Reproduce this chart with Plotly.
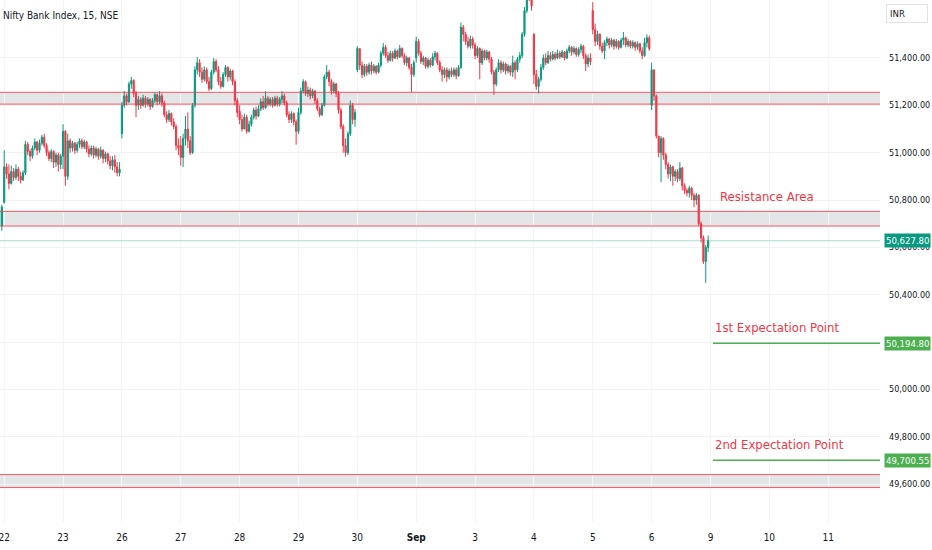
import plotly.graph_objects as go

# Nifty Bank Index, 15 min candles, 22 Aug - 6 Sep
day_labels = ["22", "23", "26", "27", "28", "29", "30", "<b>Sep</b>", "3", "4", "5", "6", "9", "10", "11"]
bars_per_day = 25

# last bar of 21 Aug: open, high, low, close
prior_bar = [50690, 50780, 50670, 50770]

session_opens = [50790, 50985, 51080, 51030, 51175, 51090, 51350, 51400, 51455, 51500, 51600, 51200]

closes = [
    # 22 Aug
    50940, 50910, 50870, 50920, 50895, 50930, 50900, 50885, 50915, 51035, 51005, 50985, 51020,
    51045, 51010, 51040, 51065, 51030, 51000, 50975, 51005, 50960, 50990, 50950, 50985,
    # 23 Aug
    51090, 50900, 51050, 51020, 51040, 51010, 51035, 51050, 51025, 51045, 51015, 50995, 51020,
    50990, 51015, 50985, 51010, 50975, 50995, 50965, 50945, 50970, 50940, 50915, 50930,
    # 26 Aug
    51200, 51240, 51215, 51290, 51305, 51250, 51200, 51225, 51200, 51230, 51205, 51225, 51195,
    51220, 51245, 51215, 51240, 51210, 51160, 51140, 51165, 51130, 51110, 51030, 51020,
    # 27 Aug
    50980, 51060, 51100, 51050, 51000, 51200, 51350, 51380, 51340, 51310, 51350, 51300, 51270,
    51340, 51385, 51350, 51300, 51280, 51330, 51360, 51320, 51345, 51300, 51220, 51170,
    # 28 Aug
    51140, 51100, 51150, 51090, 51120, 51150, 51180, 51155, 51185, 51215, 51190, 51230, 51205,
    51225, 51200, 51230, 51205, 51225, 51240, 51210, 51160, 51140, 51165, 51130, 51090,
    # 29 Aug
    51170, 51260, 51300, 51250, 51265, 51240, 51260, 51220, 51185, 51160, 51200, 51320, 51340,
    51300, 51260, 51290, 51250, 51180, 51110, 51030, 51000, 51080, 51200, 51140, 51170,
    # 30 Aug
    51440, 51370, 51330, 51365, 51340, 51370, 51345, 51365, 51340, 51370, 51420, 51445, 51410,
    51390, 51420, 51400, 51430, 51405, 51440, 51410, 51380, 51400, 51360, 51330, 51380,
    # 2 Sep
    51470, 51420, 51385, 51400, 51365, 51390, 51370, 51405, 51420, 51380, 51350, 51330, 51350,
    51320, 51345, 51330, 51350, 51325, 51360, 51530, 51500, 51470, 51450, 51480, 51455,
    # 3 Sep
    51410, 51440, 51380, 51430, 51400, 51425, 51395, 51340, 51290, 51350, 51380, 51350, 51375,
    51345, 51365, 51340, 51380, 51350, 51395, 51410, 51500, 51600, 51680, 51660, 51620,
    # 4 Sep
    51330, 51280, 51310, 51360, 51400, 51380, 51410, 51395, 51415, 51400, 51420, 51405, 51425,
    51400, 51430, 51445, 51425, 51440, 51415, 51435, 51450, 51410, 51375, 51400, 51385,
    # 5 Sep
    51520, 51470, 51500, 51450, 51430, 51465, 51480, 51455, 51475, 51450, 51470, 51445, 51475,
    51485, 51455, 51470, 51450, 51465, 51445, 51460, 51430, 51410, 51465, 51485, 51440,
    # 6 Sep
    51350, 51240, 51070, 51000, 51060, 50990, 50950, 50910, 50940, 50900, 50920, 50890, 50935,
    50860, 50840, 50830, 50850, 50820, 50800, 50820, 50700, 50640, 50540, 50600, 50627.80,
]

highs = [
    51010, 50955, 50950, 50945, 50935, 50950, 50940, 50920, 50925, 51050, 51045, 51015, 51030,
    51060, 51050, 51055, 51075, 51080, 51040, 51010, 51015, 51010, 51000, 51000, 50995,
    51120, 51095, 51080, 51060, 51050, 51045, 51045, 51060, 51060, 51055, 51050, 51030, 51030,
    51030, 51025, 51020, 51025, 51015, 51005, 51000, 50985, 50985, 50990, 50960, 50960,
    51215, 51260, 51250, 51300, 51320, 51310, 51260, 51240, 51235, 51245, 51240, 51235, 51230,
    51230, 51255, 51250, 51260, 51250, 51220, 51175, 51180, 51170, 51145, 51120, 51060,
    51070, 51080, 51155, 51170, 51070, 51210, 51365, 51404, 51395, 51360, 51365, 51360, 51320,
    51350, 51400, 51395, 51365, 51320, 51340, 51370, 51365, 51355, 51350, 51310, 51230,
    51200, 51160, 51165, 51160, 51135, 51160, 51190, 51195, 51200, 51230, 51240, 51260, 51240,
    51235, 51235, 51240, 51240, 51235, 51260, 51250, 51220, 51175, 51175, 51170, 51140,
    51190, 51275, 51310, 51305, 51280, 51275, 51270, 51265, 51230, 51195, 51210, 51330, 51370,
    51350, 51310, 51300, 51295, 51260, 51190, 51120, 51060, 51090, 51220, 51210, 51185,
    51450, 51440, 51385, 51375, 51375, 51380, 51385, 51375, 51370, 51380, 51430, 51463, 51455,
    51425, 51430, 51430, 51440, 51435, 51455, 51445, 51420, 51410, 51405, 51375, 51390,
    51490, 51480, 51430, 51410, 51405, 51400, 51400, 51420, 51430, 51425, 51390, 51365, 51360,
    51360, 51355, 51360, 51360, 51360, 51370, 51550, 51540, 51510, 51490, 51495, 51490,
    51465, 51450, 51445, 51440, 51435, 51435, 51430, 51405, 51350, 51360, 51395, 51390, 51385,
    51380, 51375, 51370, 51410, 51390, 51405, 51425, 51510, 51615, 51700, 51700, 51680,
    51505, 51350, 51320, 51375, 51415, 51420, 51430, 51425, 51430, 51425, 51435, 51430, 51435,
    51430, 51440, 51455, 51450, 51450, 51445, 51445, 51460, 51455, 51420, 51415, 51420,
    51636, 51545, 51515, 51505, 51465, 51475, 51490, 51485, 51485, 51480, 51480, 51475, 51485,
    51510, 51490, 51480, 51475, 51475, 51470, 51470, 51465, 51445, 51485, 51500, 51495,
    51380, 51340, 51245, 51070, 51070, 51065, 51000, 50960, 50950, 50945, 50930, 50930, 50960,
    50940, 50870, 50850, 50860, 50855, 50830, 50830, 50825, 50710, 50650, 50610, 50650,
]

lows = [
    50785, 50890, 50845, 50865, 50880, 50885, 50880, 50870, 50880, 50905, 50990, 50965, 50975,
    51010, 50990, 51000, 51030, 51020, 50985, 50965, 50960, 50935, 50940, 50920, 50930,
    50930, 50860, 50885, 51000, 51005, 50995, 51000, 51020, 51015, 51015, 51000, 50980, 50985,
    50975, 50980, 50970, 50975, 50955, 50960, 50950, 50930, 50925, 50915, 50900, 50900,
    51060, 51190, 51200, 51210, 51270, 51235, 51150, 51180, 51185, 51195, 51190, 51195, 51180,
    51190, 51210, 51200, 51205, 51195, 51150, 51125, 51130, 51115, 51100, 51010, 50990,
    50945, 50940, 51030, 51020, 50990, 50995, 51190, 51330, 51320, 51295, 51300, 51290, 51260,
    51265, 51330, 51340, 51285, 51270, 51275, 51320, 51300, 51305, 51285, 51200, 51150,
    51120, 51090, 51100, 51080, 51085, 51110, 51140, 51140, 51150, 51175, 51180, 51185, 51195,
    51195, 51190, 51195, 51195, 51195, 51210, 51200, 51150, 51125, 51125, 51115, 51034,
    51080, 51160, 51250, 51240, 51235, 51225, 51230, 51205, 51175, 51150, 51155, 51195, 51310,
    51280, 51245, 51250, 51235, 51165, 51100, 51000, 50983, 50990, 51070, 51120, 51110,
    51340, 51350, 51315, 51320, 51325, 51330, 51330, 51335, 51330, 51335, 51360, 51410, 51400,
    51380, 51385, 51385, 51395, 51395, 51400, 51400, 51370, 51365, 51350, 51257, 51320,
    51380, 51410, 51375, 51370, 51355, 51355, 51360, 51365, 51390, 51370, 51340, 51300, 51315,
    51300, 51310, 51320, 51320, 51310, 51320, 51355, 51470, 51455, 51440, 51440, 51440,
    51395, 51400, 51310, 51370, 51390, 51390, 51380, 51330, 51244, 51280, 51340, 51335, 51340,
    51330, 51335, 51325, 51320, 51310, 51340, 51380, 51400, 51490, 51590, 51640, 51600,
    51290, 51265, 51250, 51300, 51350, 51370, 51375, 51385, 51390, 51390, 51395, 51395, 51400,
    51390, 51395, 51420, 51410, 51415, 51405, 51405, 51420, 51395, 51345, 51360, 51370,
    51500, 51450, 51455, 51435, 51420, 51395, 51450, 51440, 51445, 51435, 51440, 51435, 51440,
    51455, 51445, 51445, 51440, 51440, 51430, 51435, 51420, 51395, 51405, 51445, 51430,
    51180, 51220, 51060, 50980, 50875, 50970, 50930, 50890, 50880, 50860, 50880, 50875, 50880,
    50840, 50825, 50815, 50810, 50800, 50770, 50780, 50690, 50620, 50530, 50450, 50580,
]

# drawn levels
band_lows = [51205, 50690, 49585]
band_highs = [51255, 50752, 49640]
resistance_label = 50813
targets = [50194.80, 49700.55]
target_names = ["1st Expectation Point", "2nd Expectation Point"]
last_price = closes[-1]

GREEN = "#089981"
RED = "#f23645"
TARGET_GREEN = "#4caf50"
NARROW = "DejaVu Sans Condensed, Liberation Sans Narrow, sans-serif"

# assemble bars: first one is the prior session's last bar
xs = [-1] + list(range(len(closes)))
o = [prior_bar[0]]
h = [prior_bar[1]]
l = [prior_bar[2]]
c = [prior_bar[3]]
for i, close in enumerate(closes):
    if i % bars_per_day == 0:
        op = session_opens[i // bars_per_day]
    else:
        op = closes[i - 1]
    o.append(op)
    c.append(close)
    h.append(max(highs[i], op, close))
    l.append(min(lows[i], op, close))

fig = go.Figure()
fig.add_trace(go.Candlestick(
    x=xs, open=o, high=h, low=l, close=c,
    increasing=dict(line=dict(color=GREEN, width=1), fillcolor=GREEN),
    decreasing=dict(line=dict(color=RED, width=1), fillcolor=RED),
    whiskerwidth=0,
    hoverinfo="skip",
))

for lo, hi in zip(band_lows, band_highs):
    fig.add_shape(type="rect", xref="paper", x0=0, x1=1, yref="y", y0=lo, y1=hi,
                  fillcolor="rgba(120,123,134,0.2)", line_width=0, layer="between")
    for v in (lo, hi):
        fig.add_shape(type="line", xref="paper", x0=0, x1=1, yref="y", y0=v, y1=v,
                      line=dict(color=RED, width=1), opacity=0.8)

# last price line
fig.add_shape(type="line", xref="paper", x0=0, x1=1, yref="y", y0=last_price, y1=last_price,
              line=dict(color="rgba(8,153,129,0.35)", width=1))

last_x = xs[-1]
for t, name in zip(targets, target_names):
    fig.add_shape(type="line", xref="x", x0=last_x + 2, x1=400, yref="y", y0=t, y1=t,
                  line=dict(color=TARGET_GREEN, width=1.5))
    fig.add_annotation(x=last_x + 2, y=t, xref="x", yref="y", text=name, showarrow=False,
                       xanchor="left", yanchor="bottom", yshift=6,
                       font=dict(family=NARROW, size=13, color=RED))
    fig.add_annotation(x=1, y=t, xref="paper", yref="y", text=f"{t:,.2f}", showarrow=False,
                       xanchor="left", xshift=4, bgcolor=TARGET_GREEN, borderpad=1,
                       font=dict(family=NARROW, size=9.5, color="white"))

fig.add_annotation(x=last_x + 4, y=resistance_label, xref="x", yref="y", text="Resistance Area",
                   showarrow=False, xanchor="left", yanchor="middle",
                   font=dict(family=NARROW, size=13, color=RED))

fig.add_annotation(x=1, y=last_price, xref="paper", yref="y", text=f"{last_price:,.2f}",
                   showarrow=False, xanchor="left", xshift=4, bgcolor=GREEN, borderpad=1,
                   font=dict(family=NARROW, size=9.5, color="white"))

fig.add_annotation(x=0, y=1, xref="paper", yref="paper", text="Nifty Bank Index, 15, NSE",
                   showarrow=False, xanchor="left", yanchor="middle", xshift=1, yshift=-15,
                   font=dict(family=NARROW, size=10, color="#131722"))

fig.add_annotation(x=1, y=1, xref="paper", yref="paper", text="INR", showarrow=False,
                   xanchor="left", yanchor="top", xshift=6, yshift=-4, width=34, align="left",
                   bordercolor="#e0e3eb", borderwidth=1, borderpad=3, bgcolor="white",
                   font=dict(family=NARROW, size=9.5, color="#131722"))

fig.update_layout(
    width=932, height=550,
    margin=dict(l=0, r=52, t=0, b=28),
    plot_bgcolor="white", paper_bgcolor="white",
    showlegend=False,
    xaxis=dict(
        range=[-1.78, 372.0],
        tickvals=[k * bars_per_day for k in range(len(day_labels))],
        ticktext=day_labels,
        showgrid=True, gridcolor="#f4f5f8", zeroline=False,
        rangeslider=dict(visible=False),
        automargin=False,
        ticks="", ticklabelstandoff=8, ticklabeloverflow="allow",
        tickfont=dict(family=NARROW, size=10, color="#131722"),
    ),
    yaxis=dict(
        side="right",
        range=[49439.5, 51645],
        tickvals=list(range(49600, 51401, 200)),
        tickformat=",.2f",
        showgrid=True, gridcolor="#f0f2f6", zeroline=False,
        automargin=False,
        ticks="", ticklabelstandoff=8,
        tickfont=dict(family=NARROW, size=9, color="#131722"),
    ),
)

# drop the page's default body margin so the chart sits at the window corner
fig.write_html("out.html", config={"displayModeBar": False},
               post_script="document.body.style.margin = '0';")
